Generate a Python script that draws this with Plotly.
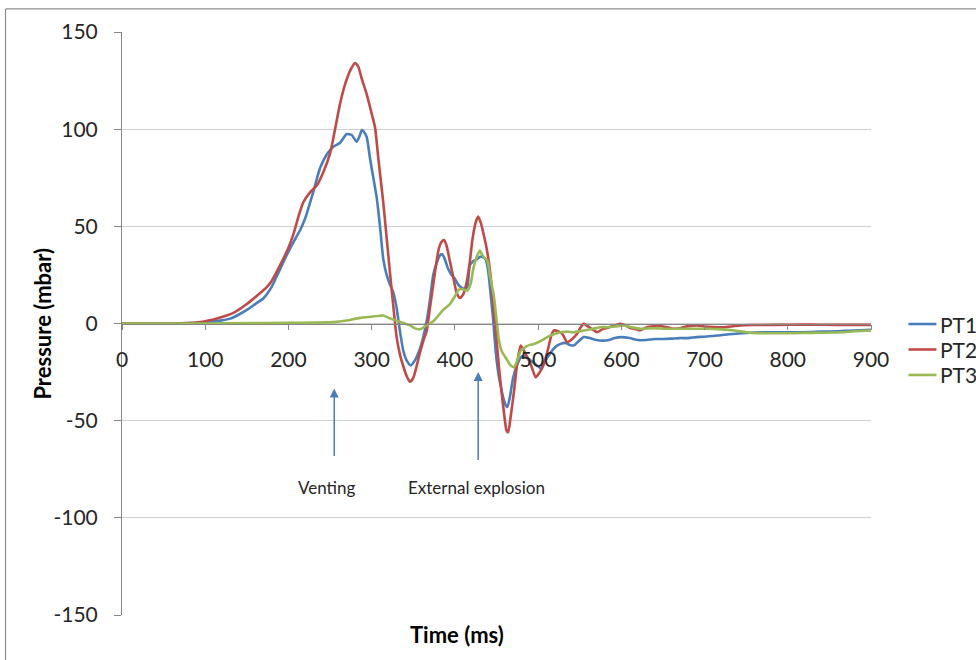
import plotly.graph_objects as go

# ---------------- data ----------------
pt1_t = [0, 20, 40, 60, 80, 90, 100, 110, 120, 130, 140, 150, 160, 170, 180, 190, 200, 210, 214, 220,
         230, 238, 246, 254, 262, 270, 276, 282, 286, 288, 290, 294, 298, 302, 306, 310, 314, 318, 322,
         326, 330, 334, 338, 342, 347, 352, 358, 362, 366, 370, 374, 378, 382, 385, 388, 392, 396, 400,
         404, 408, 412, 415, 418, 422, 426, 431, 434, 437, 440, 443, 446, 449, 452, 455, 458, 461, 463,
         466, 470, 475, 480, 485, 491, 497, 503, 509, 515, 521, 527, 533, 538, 543, 549, 555, 562, 570,
         578, 585, 592, 600, 610, 620, 630, 640, 650, 660, 670, 680, 690, 700, 715, 730, 745, 760, 780,
         800, 820, 840, 860, 880, 900]
pt1_v = [0, 0, 0, 0, 0.2, 0.3, 0.5, 1, 1.6, 2.5, 4.5, 7, 10, 13, 19, 28, 37, 45, 48, 54,
         68, 80, 87, 91, 93, 97.5, 97, 93.5, 97, 99.5, 99, 96, 85, 75, 65, 50, 33, 25, 20,
         16, 8, -4, -14, -19, -21.5, -19, -13, -7, 1, 12, 25, 31, 35, 35.5, 33, 28, 25, 23,
         20, 18.5, 18, 19, 30, 32, 33, 34.5, 34, 33, 27, 15, 2, -14, -25, -32, -38, -42, -43,
         -38, -28, -21, -17, -17, -19, -21, -23, -19, -15, -12, -10.5, -10, -11, -11.3, -9, -7, -7.5, -8.5,
         -8.8, -8.5, -7.5, -7, -7.5, -8.5, -8.5, -8, -8, -7.8, -7.5, -7.5, -7, -6.8, -6.2, -5.5, -5, -4.6, -4.5,
         -4.5, -4.5, -4.2, -4, -3.6, -3.3]

pt2_t = [0, 60, 80, 94, 100, 110, 120, 134, 140, 150, 160, 174, 180, 190, 200, 206, 212, 218, 226, 234,
         242, 250, 256, 262, 268, 274, 280, 284, 288, 294, 300, 304, 308, 314, 318, 322, 326, 330, 334,
         338, 342, 346, 350, 354, 358, 362, 366, 370, 374, 378, 381, 384, 387, 390, 394, 398, 402, 406,
         410, 414, 418, 421, 425, 428, 431, 435, 438, 441, 444, 447, 450, 453, 456, 459, 462, 464, 467,
         471, 475, 479, 483, 487, 492, 497, 502, 507, 512, 516, 519, 524, 529, 535, 541, 547, 551, 555,
         560, 565, 571, 577, 585, 592, 599, 605, 612, 618, 623, 630, 637, 643, 650, 656, 663, 670, 678,
         685, 691, 700, 710, 723, 733, 743, 760, 784, 820, 860, 900]
pt2_v = [0, 0, 0.2, 0.8, 1.2, 2, 3.3, 5.5, 7, 10, 13.5, 18.7, 22, 30, 39, 46, 55, 62.5, 67.5, 71,
         78, 87.5, 100, 113, 123, 130, 134, 132, 126, 118, 108, 101, 85, 62, 44, 26, 9, -7, -16,
         -22, -27, -30, -28, -22, -15, -9, -4, 8, 20, 32, 39, 42, 43, 40, 32, 24, 16, 13.2,
         15, 21, 32, 43, 52, 55, 52, 45, 39, 31, 20, 5, -8, -23, -35, -46, -55, -56, -48,
         -35, -20, -11.3, -14, -17.4, -22, -27.7, -25, -20.8, -13, -6, -3.6, -4, -5.3, -9.6, -8, -5.2, -2, -0.2,
         -1.5, -3, -4.5, -3, -2, -1, -0.2, -1, -2.5, -3, -3.5, -2, -1.5, -1, -1.5, -2, -2.7, -2.5, -1.5,
         -1.2, -1, -1.5, -1.8, -1.9, -1.5, -1, -0.8, -0.7, -0.6, -0.7, -0.7]

pt3_t = [0, 100, 150, 200, 254, 270, 286, 300, 310, 314, 320, 330, 340, 346, 352, 358, 364, 370, 375, 380,
         386, 394, 400, 404, 407, 410, 415, 419, 422, 426, 430, 432, 435, 439, 442, 447, 450, 453, 456,
         460, 463, 466, 471, 475, 479, 485, 490, 495, 503, 511, 519, 527, 535, 543, 555, 565, 575, 583,
         593, 603, 613, 623, 633, 643, 653, 663, 680, 703, 720, 736, 750, 764, 780, 804, 830, 864, 880, 900]
pt3_v = [0, 0, 0.2, 0.3, 0.7, 1.5, 2.9, 3.5, 4, 4.1, 3, 1.5, 0, -1, -2.5, -3, -1.5, 0, 1.5, 4,
         7, 10, 14, 17, 17.9, 17.5, 17, 20.5, 28, 34, 37.6, 36, 34, 32.5, 25, 13.6, 2, -8.8, -14,
         -17, -19, -21, -22.5, -19, -14, -12, -11, -10.5, -9, -7, -5.5, -4.5, -4.2, -4.5, -3.6, -2.8, -1.9, -1.9,
         -1.5, -1, -2, -2.7, -2.5, -2.5, -2.7, -2.7, -2.7, -2.7, -3, -3.6, -4.5, -5, -5, -5, -4.8, -4.5, -4, -3.6]

series_names = ["PT1", "PT2", "PT3"]
series_colors = ["#4A7EBB", "#BE4B48", "#98B954"]

x_ticks = [0, 100, 200, 300, 400, 500, 600, 700, 800, 900]
y_ticks = [-150, -100, -50, 0, 50, 100, 150]
y_tick_text = ["-150", "-100", "-50", "0", "50", "100", "150"]

arrow_labels = ["Venting", "External explosion"]
arrow_x = [255, 428]
arrow_head_y = [-33.5, -25]
arrow_tail_y = [-69, -71]
label_x = [246, 426]
label_y = [-84.5, -84.5]

# ---------------- figure ----------------
FONT = "Lato, 'Open Sans', sans-serif"
fig = go.Figure()
for name, t, v, c in zip(series_names, [pt1_t, pt2_t, pt3_t], [pt1_v, pt2_v, pt3_v], series_colors):
    fig.add_trace(go.Scatter(x=t, y=v, mode="lines", name=name, showlegend=False,
                             line=dict(color=c, width=2.6, shape="spline", smoothing=0.6)))

# legend (drawn as keys + labels to the right of the plot)
legend_y = [0.4991, 0.4554, 0.4117]
for name, c, ly in zip(series_names, series_colors, legend_y):
    fig.add_shape(type="line", xref="paper", yref="paper", x0=1.050, x1=1.0874, y0=ly, y1=ly,
                  line=dict(color=c, width=2.6))
    fig.add_annotation(x=1.0901, y=ly, xref="paper", yref="paper", text=name, showarrow=False,
                       xanchor="left", yanchor="middle",
                       font=dict(family=FONT, size=21, color="#262626"))

for lab, ax_, hy, ty, lx, ly in zip(arrow_labels, arrow_x, arrow_head_y, arrow_tail_y, label_x, label_y):
    fig.add_annotation(x=ax_, y=hy, ax=ax_, ay=ty, axref="x", ayref="y", xref="x", yref="y",
                       text="", showarrow=True, arrowhead=2, arrowsize=1.2, arrowwidth=1.5,
                       arrowcolor="#4A7EBB")
    fig.add_annotation(x=lx, y=ly, xref="x", yref="y", text=lab, showarrow=False,
                       font=dict(family=FONT, size=17, color="#262626"))

fig.add_annotation(x=0.4478, y=-0.0326, xref="paper", yref="paper", text="<b>Time (ms)</b>",
                   showarrow=False, xanchor="center", yanchor="middle",
                   font=dict(family=FONT, size=22, color="#000000"))
fig.add_annotation(x=-0.1067, y=0.5, xref="paper", yref="paper", text="<b>Pressure (mbar)</b>",
                   textangle=-90, showarrow=False, xanchor="center", yanchor="middle",
                   font=dict(family=FONT, size=22, color="#000000"))

# chart border (left and top)
fig.add_shape(type="line", xref="paper", yref="paper", x0=-0.1555, x1=-0.1555, y0=1.0395, y1=-0.1,
              line=dict(color="#8c8c8c", width=1.2))
fig.add_shape(type="line", xref="paper", yref="paper", x0=-0.1555, x1=1.2, y0=1.0395, y1=1.0395,
              line=dict(color="#8c8c8c", width=1.2))

fig.update_layout(
    width=976, height=660,
    margin=dict(l=122, r=104.5, t=32, b=45, autoexpand=False),
    paper_bgcolor="white", plot_bgcolor="white",
    font=dict(family=FONT, size=21, color="#262626"),
    showlegend=False,
)
fig.update_xaxes(range=[0, 900], tickvals=x_ticks, ticktext=[str(v) for v in x_ticks],
                 anchor="free", position=0.5, showline=True, linecolor="#868686", linewidth=1,
                 ticks="outside", ticklen=5, tickcolor="#868686", showgrid=False, zeroline=False,
                 ticklabelstandoff=12, tickfont=dict(family=FONT, size=21, color="#262626"))
fig.update_yaxes(range=[-150, 150], tickvals=y_ticks, ticktext=y_tick_text, showline=True,
                 linecolor="#868686", linewidth=1,
                 ticks="outside", ticklen=7, tickcolor="#868686", showgrid=True, gridcolor="#CFCFCF",
                 gridwidth=1, zeroline=False, ticklabelstandoff=12,
                 tickfont=dict(family=FONT, size=21, color="#262626"))

fig.write_html("out.html")
